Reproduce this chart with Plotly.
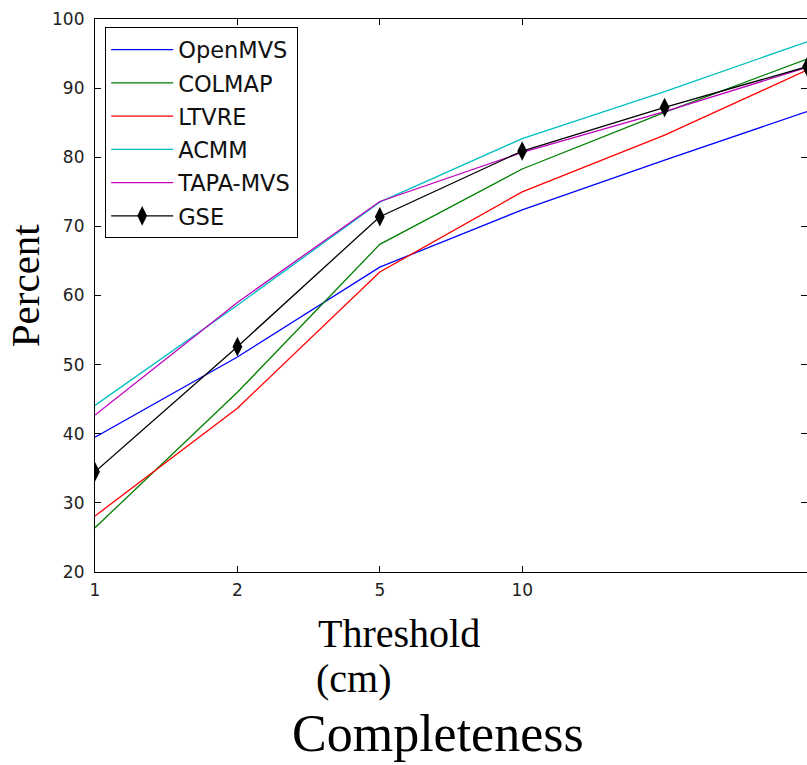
import plotly.graph_objects as go

x_idx = [0, 1, 2, 3, 4, 5]
tick_labels = ["1", "2", "5", "10"]

openmvs = [39.5, 51.1, 64.1, 72.4, 79.6, 86.6]
colmap = [26.4, 46.0, 67.4, 78.3, 86.5, 94.2]
ltvre = [28.1, 43.7, 63.4, 75.0, 83.2, 92.6]
acmm = [44.1, 58.6, 73.5, 82.7, 89.5, 96.7]
tapa = [42.7, 59.0, 73.6, 80.7, 86.6, 93.0]
gse = [34.5, 52.6, 71.4, 80.9, 87.2, 93.1]

series = [
    ("OpenMVS", openmvs, "#0000ff"),
    ("COLMAP", colmap, "#008000"),
    ("LTVRE", ltvre, "#ff0000"),
    ("ACMM", acmm, "#00bfbf"),
    ("TAPA-MVS", tapa, "#bf00bf"),
]

fig = go.Figure()
for i, (name, vals, col) in enumerate(series):
    fig.add_trace(go.Scatter(x=x_idx, y=vals, mode="lines", name=name,
                             line=dict(color=col, width=1.3), legendgroup=f"g{i}"))
fig.add_trace(go.Scatter(x=x_idx, y=gse, mode="lines+markers", name="GSE",
                         line=dict(color="black", width=1.3),
                         marker=dict(symbol="diamond-tall", size=14, color="black"),
                         legendgroup="g5"))

axis_common = dict(showgrid=False, zeroline=False, showline=True, linecolor="black",
                   linewidth=1.2, mirror="ticks", ticks="inside", ticklen=6,
                   tickcolor="black", tickfont=dict(family="DejaVu Sans", size=17, color="#222"))

fig.update_layout(
    width=807, height=765,
    margin=dict(l=95, r=0, t=19, b=193),
    plot_bgcolor="white", paper_bgcolor="white",
    showlegend=True,
    legend=dict(x=0.014, y=0.985, xanchor="left", yanchor="top",
                bordercolor="black", borderwidth=1.2, bgcolor="white",
                font=dict(family="DejaVu Sans", size=22.5, color="#111"),
                traceorder="grouped", tracegroupgap=1, itemwidth=62),
    xaxis=dict(range=[0, 5], tickvals=[0, 1, 2, 3], ticktext=tick_labels,
               ticklabelstandoff=2, **axis_common),
    yaxis=dict(range=[20, 100], tickvals=[20, 30, 40, 50, 60, 70, 80, 90, 100],
               ticklabelstandoff=6, **axis_common),
)

serif = "Liberation Serif"
fig.add_annotation(text="Percent", xref="paper", yref="paper", x=-0.098, y=0.519,
                   xanchor="center", yanchor="middle", textangle=-90, showarrow=False,
                   font=dict(family=serif, size=41, color="black"))
fig.add_annotation(text="Threshold", xref="paper", yref="paper", x=0.31, y=-0.0669,
                   xanchor="left", yanchor="top", align="left", showarrow=False,
                   font=dict(family=serif, size=40, color="black"))
fig.add_annotation(text="(cm)", xref="paper", yref="paper", x=0.307, y=-0.1483,
                   xanchor="left", yanchor="top", align="left", showarrow=False,
                   font=dict(family=serif, size=40, color="black"))
fig.add_annotation(text="Completeness", xref="paper", yref="paper", x=0.274, y=-0.2370,
                   xanchor="left", yanchor="top", align="left", showarrow=False,
                   font=dict(family=serif, size=52, color="black"))

fig.write_html("out.html")
